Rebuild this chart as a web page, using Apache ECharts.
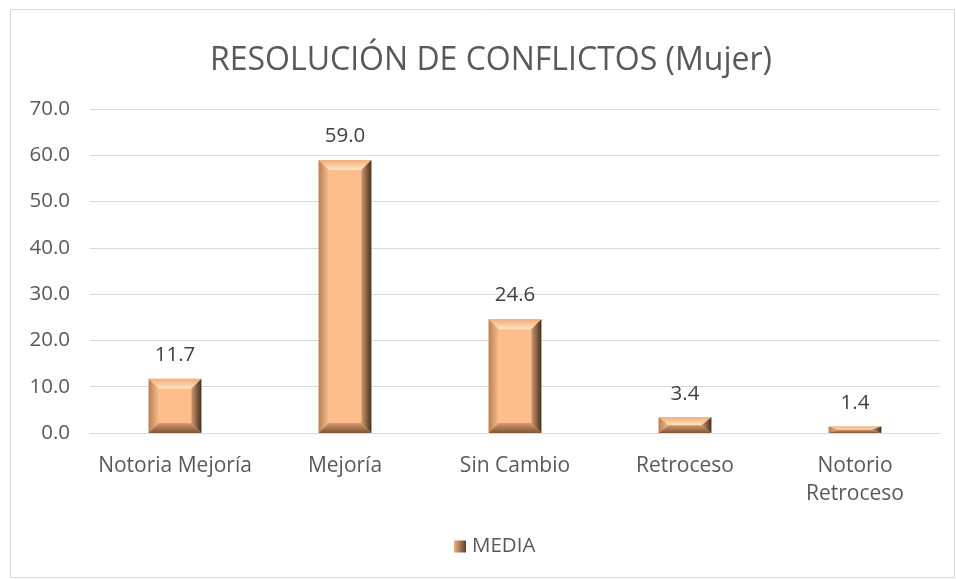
<!DOCTYPE html>
<html>
<head>
<meta charset="utf-8">
<script src="https://cdn.jsdelivr.net/npm/echarts@6/dist/echarts.min.js"></script>
<style>
  html, body { margin: 0; padding: 0; background: #fff; }
  #chart { width: 956px; height: 579px; }
</style>
</head>
<body>
<div id="chart"></div>
<script>
var categories = ['Notoria Mejoría', 'Mejoría', 'Sin Cambio', 'Retroceso', 'Notorio\nRetroceso'];
var media = [11.7, 59.0, 24.6, 3.4, 1.4];
var yTicks = { min: 0, max: 70, interval: 10 };

var myChart = echarts.init(document.getElementById('chart'));
var font = 'Open Sans';
var bev = 10;

function renderBevel(params, api) {
  var x = api.value(0);
  var v = api.value(1);
  var top = api.coord([x, v]);
  var base = api.coord([x, 0]);
  var w = api.size([1, 0])[0] * 0.31;
  var l = top[0] - w / 2, r = top[0] + w / 2, t = top[1], b = base[1];
  var bb = Math.min(bev, (b - t) / 2);
  var poly = function (pts, fill) {
    return { type: 'polygon', shape: { points: pts }, style: { fill: fill } };
  };
  return {
    type: 'group',
    children: [
      { type: 'rect', shape: { x: l, y: t, width: r - l, height: b - t }, style: { fill: '#FDBE8B' } },
      poly([[l, t], [r, t], [r - bev, t + bb], [l + bev, t + bb]],
        new echarts.graphic.LinearGradient(0, 0, 0, 1, [{ offset: 0, color: '#F2AC78' }, { offset: 1, color: '#FFE4C6' }])),
      poly([[l, t], [l + bev, t + bb], [l + bev, b - bb], [l, b]],
        new echarts.graphic.LinearGradient(0, 0, 1, 0, [{ offset: 0, color: '#B87E56' }, { offset: 1, color: '#F8BC8C' }])),
      poly([[r, t], [r - bev, t + bb], [r - bev, b - bb], [r, b]],
        new echarts.graphic.LinearGradient(0, 0, 1, 0, [{ offset: 0, color: '#D29A6E' }, { offset: 1, color: '#45301F' }])),
      poly([[l, b], [l + bev, b - bb], [r - bev, b - bb], [r, b]],
        new echarts.graphic.LinearGradient(0, 0, 0, 1, [{ offset: 0, color: '#D89A6B' }, { offset: 1, color: '#7E5538' }])),
      {
        type: 'text',
        style: {
          x: top[0], y: t - 13,
          text: v.toFixed(1),
          align: 'center', verticalAlign: 'bottom',
          font: '20.5px "' + font + '"',
          fill: '#404040'
        }
      }
    ]
  };
}

myChart.setOption({
  animation: false,
  title: {
    text: 'RESOLUCIÓN DE CONFLICTOS (Mujer)',
    left: 205,
    top: 40,
    textStyle: { fontFamily: font, fontSize: 32, fontWeight: 'normal', color: '#595959' }
  },
  graphic: [{
    type: 'rect',
    shape: { x: 10.5, y: 9.5, width: 944, height: 568 },
    style: { fill: 'none', stroke: '#D9D9D9', lineWidth: 1 }
  }],
  legend: {
    bottom: 17,
    left: 449,
    itemWidth: 12,
    itemHeight: 12,
    itemGap: 4,
    textStyle: { fontFamily: font, fontSize: 20.5, color: '#595959', padding: [0, 0, 0, 1] },
    data: [{ name: 'MEDIA', icon: 'rect', itemStyle: { color: new echarts.graphic.LinearGradient(0, 0, 1, 0, [{ offset: 0, color: '#F2B07E' }, { offset: 1, color: '#5A3F2C' }]) } }]
  },
  grid: { left: 90, right: 16, top: 109, bottom: 146 },
  xAxis: {
    type: 'category',
    data: categories,
    axisLine: { lineStyle: { color: '#D9D9D9' } },
    axisTick: { show: false },
    axisLabel: { interval: 0, fontFamily: font, fontSize: 21, color: '#595959', margin: 19, lineHeight: 28 }
  },
  yAxis: {
    type: 'value',
    min: yTicks.min,
    max: yTicks.max,
    interval: yTicks.interval,
    axisLine: { show: false },
    axisTick: { show: false },
    splitLine: { lineStyle: { color: '#D9D9D9' } },
    axisLabel: { fontFamily: font, fontSize: 20.5, color: '#595959', margin: 20, formatter: function (v) { return v.toFixed(1); } }
  },
  series: [{
    name: 'MEDIA',
    type: 'custom',
    renderItem: renderBevel,
    encode: { x: 0, y: 1 },
    data: media.map(function (v, i) { return [i, v]; })
  }]
});
</script>
</body>
</html>
